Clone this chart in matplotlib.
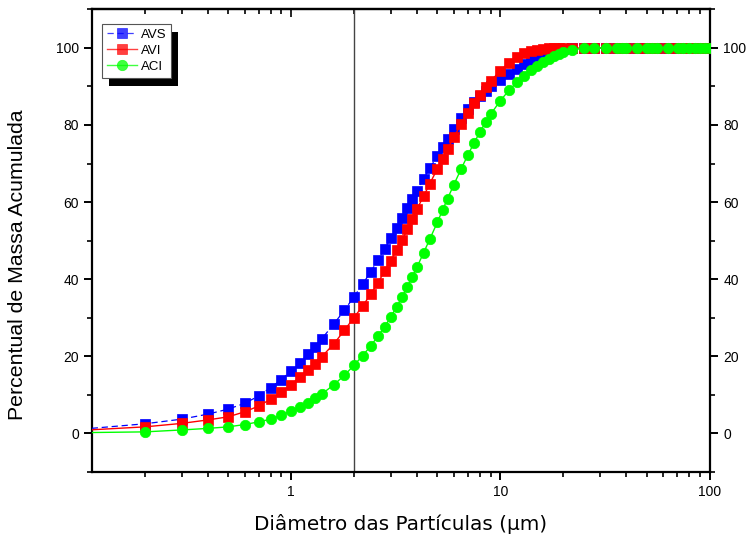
import matplotlib
matplotlib.use("Agg")
import matplotlib.pyplot as plt
from matplotlib.patches import Rectangle
from matplotlib.transforms import IdentityTransform
from matplotlib.ticker import LogLocator, FixedLocator, NullFormatter, FuncFormatter

# Particle size classes (µm)
diameter = [0.1, 0.2, 0.3, 0.4, 0.5, 0.6, 0.7, 0.8, 0.9, 1.0,
            1.1, 1.2, 1.3, 1.4, 1.6, 1.8, 2.0, 2.2, 2.4, 2.6,
            2.8, 3.0, 3.2, 3.4, 3.6, 3.8, 4.0, 4.3, 4.6, 5.0,
            5.3, 5.6, 6.0, 6.5, 7.0, 7.5, 8.0, 8.5, 9.0, 10,
            11, 12, 13, 14, 15, 16, 17, 18, 19, 20,
            22, 25, 28, 32, 36, 38, 40, 45, 50, 53,
            56, 63, 71, 75, 80, 85, 90, 95, 100]

# Cumulative mass percentage per sample
avs = [1.0, 2.4, 3.6, 4.9, 6.2, 7.7, 9.6, 11.8, 13.9, 16.1,
       18.3, 20.4, 22.4, 24.4, 28.3, 31.9, 35.4, 38.7, 41.8, 44.9,
       47.8, 50.6, 53.3, 55.9, 58.4, 60.8, 62.9, 66.0, 68.8, 71.9,
       74.2, 76.3, 78.9, 81.8, 84.1, 86.0, 87.6, 88.9, 90.0, 91.8,
       93.3, 94.6, 95.8, 96.8, 97.6, 98.3, 98.8, 99.2, 99.5, 99.7,
       99.9, 100, 100, 100, 100, 100, 100, 100, 100, 100,
       100, 100, 100, 100, 100, 100, 100, 100, 100]
avi = [0.7, 1.6, 2.5, 3.4, 4.2, 5.5, 7.0, 8.8, 10.6, 12.6,
       14.5, 16.4, 18.0, 19.8, 23.1, 26.7, 30.0, 33.0, 36.0, 39.0,
       42.0, 44.8, 47.5, 50.2, 52.9, 55.6, 58.2, 61.5, 64.7, 68.6,
       71.2, 73.8, 76.8, 80.3, 83.2, 85.7, 87.9, 89.8, 91.4, 94.1,
       96.2, 97.6, 98.6, 99.2, 99.6, 99.8, 99.9, 100, 100, 100,
       100, 100, 100, 100, 100, 100, 100, 100, 100, 100,
       100, 100, 100, 100, 100, 100, 100, 100, 100]
aci = [0.1, 0.3, 0.8, 1.2, 1.6, 2.2, 2.9, 3.6, 4.7, 5.7,
       6.8, 7.9, 9.0, 10.1, 12.5, 15.0, 17.6, 20.1, 22.6, 25.1,
       27.6, 30.2, 32.8, 35.4, 38.0, 40.6, 43.1, 46.8, 50.3, 54.7,
       57.9, 60.9, 64.5, 68.6, 72.2, 75.4, 78.2, 80.7, 82.8, 86.3,
       89.0, 91.1, 92.8, 94.2, 95.4, 96.4, 97.2, 97.9, 98.5, 98.9,
       99.5, 99.9, 100, 100, 100, 100, 100, 100, 100, 100,
       100, 100, 100, 100, 100, 100, 100, 100, 100]

series_names = ["AVS", "AVI", "ACI"]
x_ticks = [1, 10, 100]
y_ticks = [0, 20, 40, 60, 80, 100]
marker_line = 2.0

plt.rcParams["font.family"] = ["Liberation Sans", "DejaVu Sans"]

fig = plt.figure(figsize=(7.55, 5.42), dpi=100)
ax = fig.add_axes([0.1219, 0.130, 0.8185, 0.8525])

ax.plot(diameter, avs, color="#0000ff", lw=0.9, ls=(0, (5, 3)), marker="s",
        ms=7, mec="#0000ff", mew=0.5, label=series_names[0], zorder=3)
ax.plot(diameter, avi, color="#ff0000", lw=1.0, marker="s",
        ms=7, mec="#ff0000", mew=0.5, label=series_names[1], zorder=4)
ax.plot(diameter, aci, color="#00ff00", lw=1.0, marker="o",
        ms=7.5, mec="#00ff00", mew=0.5, label=series_names[2], zorder=5)

ax.axvline(marker_line, color="#444444", lw=1.0, zorder=2)

ax.set_xscale("log")
ax.set_xlim(0.112, 100.5)
ax.set_ylim(-10, 110)

ax.xaxis.set_major_locator(FixedLocator(x_ticks))
ax.xaxis.set_major_formatter(FuncFormatter(lambda v, p: f"{v:g}"))
ax.xaxis.set_minor_locator(LogLocator(base=10, subs=range(2, 10)))
ax.xaxis.set_minor_formatter(NullFormatter())
ax.set_yticks(y_ticks)
ax.yaxis.set_minor_locator(FixedLocator(range(-10, 111, 20)))

for s in ax.spines.values():
    s.set_linewidth(1.6)

ax.tick_params(axis="both", which="major", labelsize=10, width=1.4)
ax.tick_params(axis="x", which="both", direction="out", top=False)
ax.tick_params(axis="y", which="both", direction="out", right=True, labelright=True)
ax.tick_params(which="major", length=6)
ax.tick_params(which="minor", length=3.5, width=1.2)

# Inward ticks along the top edge
top = ax.secondary_xaxis("top")
top.xaxis.set_major_locator(FixedLocator(x_ticks))
top.xaxis.set_minor_locator(LogLocator(base=10, subs=range(2, 10)))
top.xaxis.set_major_formatter(NullFormatter())
top.xaxis.set_minor_formatter(NullFormatter())
top.tick_params(which="both", direction="in", width=1.2)
top.tick_params(which="major", length=6)
top.tick_params(which="minor", length=3.5)
top.spines["top"].set_linewidth(1.6)

ax.set_xlabel("Diâmetro das Partículas (μm)", family=["DejaVu Sans"],
              fontsize=14.4, labelpad=11)
ax.set_ylabel("Percentual de Massa Acumulada", fontsize=15.3)
ax.yaxis.set_label_coords(-0.105, 0.447)

leg = ax.legend(loc="upper left", bbox_to_anchor=(0.016, 0.969), fontsize=9.5,
                frameon=True, fancybox=False, framealpha=1, edgecolor="#555555",
                handlelength=2.3, handletextpad=0.3, labelspacing=0.3,
                borderpad=0.35, borderaxespad=0.0)
leg.get_frame().set_linewidth(0.8)
leg.set_zorder(10)
for h in leg.legend_handles:
    h.set_alpha(0.75)

# Solid drop shadow behind the legend box
fig.canvas.draw()
bb = leg.get_window_extent()
shadow = Rectangle((bb.x0 + 7, bb.y0 - 8), bb.width, bb.height,
                   transform=IdentityTransform(), facecolor="black",
                   edgecolor="none", zorder=9, clip_on=False)
ax.add_artist(shadow)

fig.savefig("out.png", dpi=100)
